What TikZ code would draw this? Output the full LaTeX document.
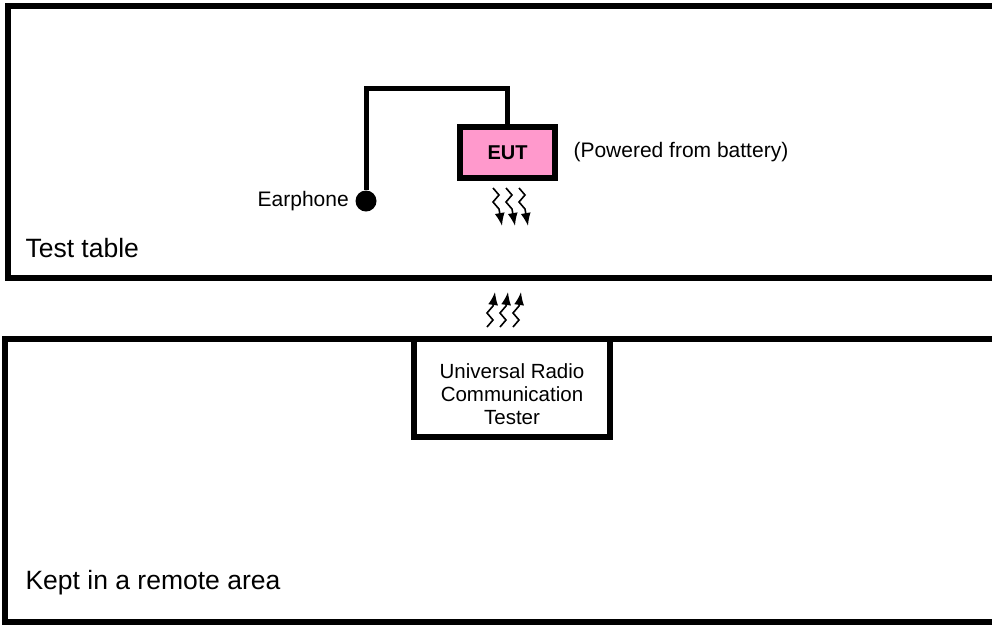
\documentclass[tikz,border=0pt]{standalone}
\usepackage{fontspec}
\setmainfont{Liberation Sans}
\usepackage{xcolor}
\usetikzlibrary{arrows.meta,positioning}
\definecolor{eutpink}{RGB}{255,153,204}

\begin{document}
\begin{tikzpicture}[x=1pt,y=-1pt,font=\fontsize{21}{23}\selectfont,
  frame/.style={draw,line width=6.5pt},
  unit/.style={draw,line width=6pt,inner sep=0pt,align=center},
  wire/.style={line width=5pt},
  wave/.style={line width=1.6pt,-{Latex[length=13pt,width=10pt]}}]
  \useasboundingbox (0,0) rectangle (992,625);
  \clip (0,0) rectangle (992,625);
  % the two areas
  \draw[frame] (8,6) rectangle (1010,278);
  \draw[frame] (5,339) rectangle (1010,622);
  \node[anchor=west,font=\fontsize{26.5}{28}\selectfont] (tbl) at (22,248) {Test table};
  \node[anchor=west,font=\fontsize{26.5}{28}\selectfont] (remote) at (22,583) {Kept in a remote area};
  % test table
  \node[unit,fill=eutpink,minimum width=95,minimum height=51,font=\bfseries\fontsize{20}{22}\selectfont] (eut) at (507.5,152.5) {EUT};
  \node[right=12pt of eut] (batt) {(Powered from battery)};
  \node[circle,fill,inner sep=0pt,minimum size=21] (ear) at (366,201) {};
  \node[left=3pt of ear] (earlbl) {Earphone};
  \coordinate (bend) at (366,88);
  \draw[wire] (eut.north) |- (bend) -- (ear);
  % remote area
  \node[unit,minimum width=196,minimum height=98] (urct) at (512,388) {};
  \node[align=center,font=\fontsize{20.5}{23}\selectfont] (urctlbl) at (512,394) {Universal Radio\\Communication\\Tester};
  % radio link
  \foreach \x in {493,506,519} {
    \draw[wave] (\x,188) -- (\x+6,195) -- (\x,202) -- (\x+6,209) -- (\x+9,226);
    \draw[wave] (\x-6,327) -- (\x,320) -- (\x-6,313) -- (\x,306) -- (\x+2,292);
  }
\end{tikzpicture}
\end{document}
